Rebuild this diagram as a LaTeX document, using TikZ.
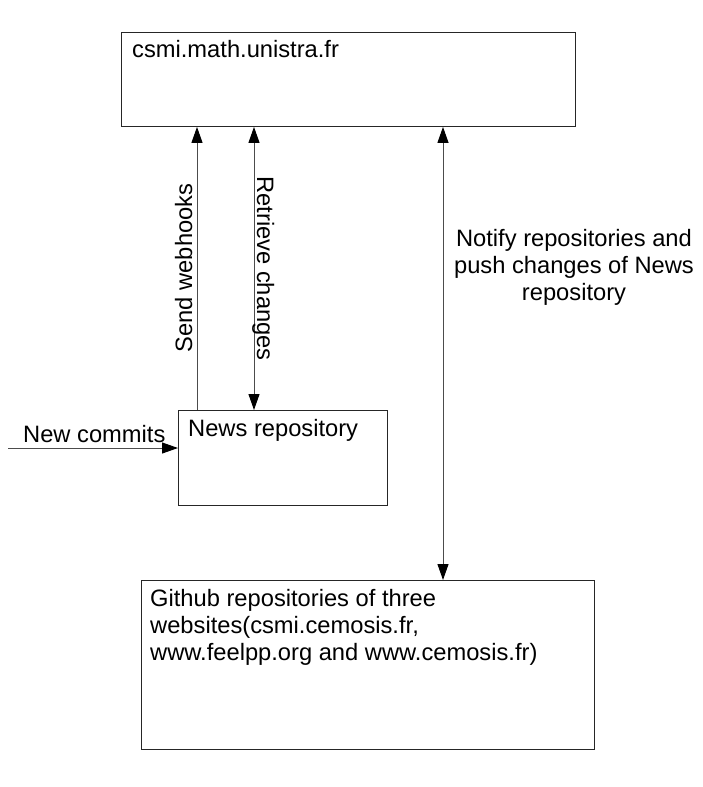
\documentclass[tikz,border=0pt]{standalone}
\usepackage{fontspec}
\setmainfont{Liberation Sans}
\usetikzlibrary{arrows.meta}
\begin{document}
\begin{tikzpicture}[x=1pt,y=-1pt,
  box/.style={draw=black!85,line width=0.9pt,rectangle,inner sep=0pt,anchor=north west},
  lbl/.style={inner sep=0pt,font=\fontsize{23.7}{27}\selectfont},
  conn/.style={draw=black!70,line width=1pt},
  tip/.style={-{Triangle[length=16pt,width=11pt,color=black]}},
  dtip/.style={{Triangle[length=16pt,width=11pt,color=black]}-{Triangle[length=16pt,width=11pt,color=black]}}]
\useasboundingbox (0,0) rectangle (703,787);
\fill[white] (0,0) rectangle (703,787);
\node[box,minimum width=454pt,minimum height=94pt] (top) at (121,32) {};
\node[box,minimum width=209pt,minimum height=95pt] (news) at (178,410) {};
\node[box,minimum width=453pt,minimum height=169pt] (gh) at (141,580) {};
\node[lbl,anchor=base west] (toptxt) at (132,57) {csmi.math.unistra.fr};
\node[lbl,anchor=base west] (newstxt) at (188,436) {News repository};
\node[lbl,anchor=base west,align=left] (ghtxt) at (150,660) {Github repositories of three\\websites(csmi.cemosis.fr,\\www.feelpp.org and www.cemosis.fr)};
\coordinate (sw) at (197,0);
\coordinate (rc) at (254,0);
\coordinate (nt) at (443,0);
\coordinate (nc) at (8,448);
\draw[conn,tip] (news.north -| sw) -- (top.south -| sw);
\draw[conn,dtip] (top.south -| rc) -- (news.north -| rc);
\draw[conn,dtip] (top.south -| nt) -- (gh.north -| nt);
\draw[conn,tip] (nc) -- (nc -| news.west);
\node[lbl,rotate=90,anchor=base] (swtxt) at (192,268) {Send webhooks};
\node[lbl,rotate=-90,anchor=base] (rctxt) at (257,268.5) {Retrieve changes};
\node[lbl,anchor=base,align=center] (nttxt) at (574,300) {Notify repositories and\\push changes of News\\repository};
\node[lbl,anchor=base west] (nctxt) at (23,442) {New commits};
\end{tikzpicture}
\end{document}
